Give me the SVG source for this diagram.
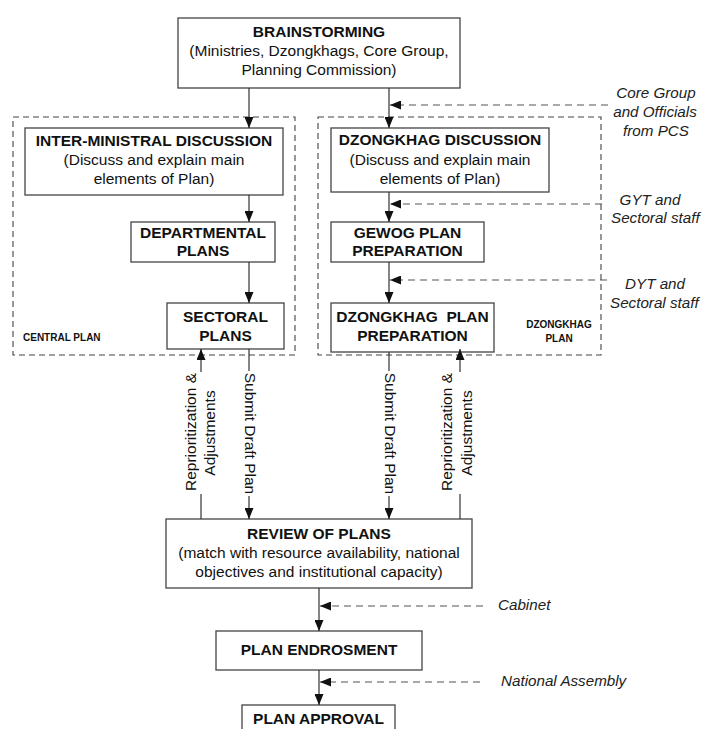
<svg xmlns="http://www.w3.org/2000/svg" width="703" height="729" viewBox="0 0 703 729">
<defs>
<marker id="ah" markerUnits="userSpaceOnUse" markerWidth="11" markerHeight="9" refX="11" refY="4.5" orient="auto">
<path d="M0,0 L11,4.5 L0,9 z" fill="#111"/>
</marker>
<style>
.box{fill:#fff;stroke:#444;stroke-width:1.3}
.grp{fill:none;stroke:#444;stroke-width:1.1;stroke-dasharray:6 4}
.ln{fill:none;stroke:#333;stroke-width:1.2}
.dl{fill:none;stroke:#555;stroke-width:1.2;stroke-dasharray:7 5}
text{font-family:"Liberation Sans",Arial,sans-serif;fill:#111}
.t{font-size:15.5px;font-weight:bold;text-anchor:middle}
.s{font-size:15.5px;text-anchor:middle}
.g{font-size:10px;font-weight:bold}
.i{font-size:15.2px;font-style:italic;fill:#222}
</style>
</defs>
<rect width="703" height="729" fill="#fff"/>

<g id="central-plan-group">
<rect class="grp" x="13" y="117" width="282" height="238"/>
<text class="g" x="23" y="341">CENTRAL PLAN</text>
</g>
<g id="dzongkhag-plan-group">
<rect class="grp" x="318" y="117" width="283" height="238"/>
<text class="g" x="559" y="328" text-anchor="middle">DZONGKHAG</text>
<text class="g" x="559" y="342" text-anchor="middle">PLAN</text>
</g>

<g id="brainstorming">
<rect class="box" x="178" y="18" width="282" height="70"/>
<text class="t" x="319" y="37">BRAINSTORMING</text>
<text class="s" x="319" y="56">(Ministries, Dzongkhags, Core Group,</text>
<text class="s" x="319" y="75">Planning Commission)</text>
</g>

<g id="inter-ministral">
<rect class="box" x="25" y="128" width="258" height="67"/>
<text class="t" x="154" y="146">INTER-MINISTRAL DISCUSSION</text>
<text class="s" x="154" y="165">(Discuss and explain main</text>
<text class="s" x="154" y="184">elements of Plan)</text>
</g>

<g id="departmental">
<rect class="box" x="131" y="222" width="144" height="40"/>
<text class="t" x="203" y="238">DEPARTMENTAL</text>
<text class="t" x="203" y="256">PLANS</text>
</g>

<g id="sectoral">
<rect class="box" x="167" y="303" width="117" height="46"/>
<text class="t" x="225.5" y="322">SECTORAL</text>
<text class="t" x="225.5" y="341">PLANS</text>
</g>

<g id="dzongkhag-discussion">
<rect class="box" x="331" y="128" width="218" height="64"/>
<text class="t" x="440" y="145">DZONGKHAG DISCUSSION</text>
<text class="s" x="440" y="165">(Discuss and explain main</text>
<text class="s" x="440" y="184">elements of Plan)</text>
</g>

<g id="gewog">
<rect class="box" x="331" y="222" width="153" height="40"/>
<text class="t" x="407.5" y="238">GEWOG PLAN</text>
<text class="t" x="407.5" y="256">PREPARATION</text>
</g>

<g id="dzongkhag-plan">
<rect class="box" x="331" y="303" width="163" height="49"/>
<text class="t" x="412.5" y="322" xml:space="preserve">DZONGKHAG  PLAN</text>
<text class="t" x="412.5" y="341">PREPARATION</text>
</g>

<g id="review">
<rect class="box" x="166" y="519" width="306" height="69"/>
<text class="t" x="319" y="539">REVIEW OF PLANS</text>
<text class="s" x="319" y="558">(match with resource availability, national</text>
<text class="s" x="319" y="577">objectives and institutional capacity)</text>
</g>

<g id="endorsement">
<rect class="box" x="216" y="631" width="206" height="39"/>
<text class="t" x="319" y="655">PLAN ENDROSMENT</text>
</g>

<g id="approval">
<rect class="box" x="242" y="705" width="153" height="40"/>
<text class="t" x="318.5" y="724">PLAN APPROVAL</text>
</g>

<g id="connectors">
<line class="ln" x1="249" y1="88" x2="249" y2="128" marker-end="url(#ah)"/>
<line class="ln" x1="389" y1="88" x2="389" y2="128" marker-end="url(#ah)"/>
<line class="ln" x1="249" y1="195" x2="249" y2="222" marker-end="url(#ah)"/>
<line class="ln" x1="249" y1="262" x2="249" y2="303" marker-end="url(#ah)"/>
<line class="ln" x1="389" y1="192" x2="389" y2="222" marker-end="url(#ah)"/>
<line class="ln" x1="389" y1="262" x2="389" y2="303" marker-end="url(#ah)"/>

<line class="ln" x1="249" y1="349" x2="249" y2="371"/>
<line class="ln" x1="249" y1="496" x2="249" y2="519" marker-end="url(#ah)"/>
<line class="ln" x1="389" y1="352" x2="389" y2="371"/>
<line class="ln" x1="389" y1="496" x2="389" y2="519" marker-end="url(#ah)"/>
<line class="ln" x1="201" y1="519" x2="201" y2="494"/>
<line class="ln" x1="201" y1="372" x2="201" y2="349" marker-end="url(#ah)"/>
<line class="ln" x1="460" y1="519" x2="460" y2="494"/>
<line class="ln" x1="460" y1="372" x2="460" y2="349" marker-end="url(#ah)"/>

<line class="ln" x1="319" y1="588" x2="319" y2="631" marker-end="url(#ah)"/>
<line class="ln" x1="319" y1="670" x2="319" y2="705" marker-end="url(#ah)"/>

<line class="dl" x1="608" y1="105" x2="390" y2="105" marker-end="url(#ah)"/>
<line class="dl" x1="602" y1="204" x2="390" y2="204" marker-end="url(#ah)"/>
<line class="dl" x1="607" y1="280" x2="390" y2="280" marker-end="url(#ah)"/>
<line class="dl" x1="483" y1="606" x2="320" y2="606" marker-end="url(#ah)"/>
<line class="dl" x1="480" y1="682" x2="320" y2="682" marker-end="url(#ah)"/>

<text class="s" transform="translate(196,432) rotate(-90)">Reprioritization &amp;</text>
<text class="s" transform="translate(215,433) rotate(-90)">Adjustments</text>
<text class="s" transform="translate(452,432) rotate(-90)">Reprioritization &amp;</text>
<text class="s" transform="translate(472,433) rotate(-90)">Adjustments</text>
<text class="s" transform="translate(244.5,433.5) rotate(90)">Submit Draft Plan</text>
<text class="s" transform="translate(384.5,433.5) rotate(90)">Submit Draft Plan</text>

<text class="i" x="656" y="98" text-anchor="middle">Core Group</text>
<text class="i" x="655" y="117" text-anchor="middle">and Officials</text>
<text class="i" x="656" y="136" text-anchor="middle">from PCS</text>
<text class="i" x="650" y="205" text-anchor="middle">GYT and</text>
<text class="i" x="611" y="223">Sectoral staff</text>
<text class="i" x="655" y="289" text-anchor="middle">DYT and</text>
<text class="i" x="610" y="308">Sectoral staff</text>
<text class="i" x="498" y="610">Cabinet</text>
<text class="i" x="501" y="686">National Assembly</text>
</g>
</svg>
